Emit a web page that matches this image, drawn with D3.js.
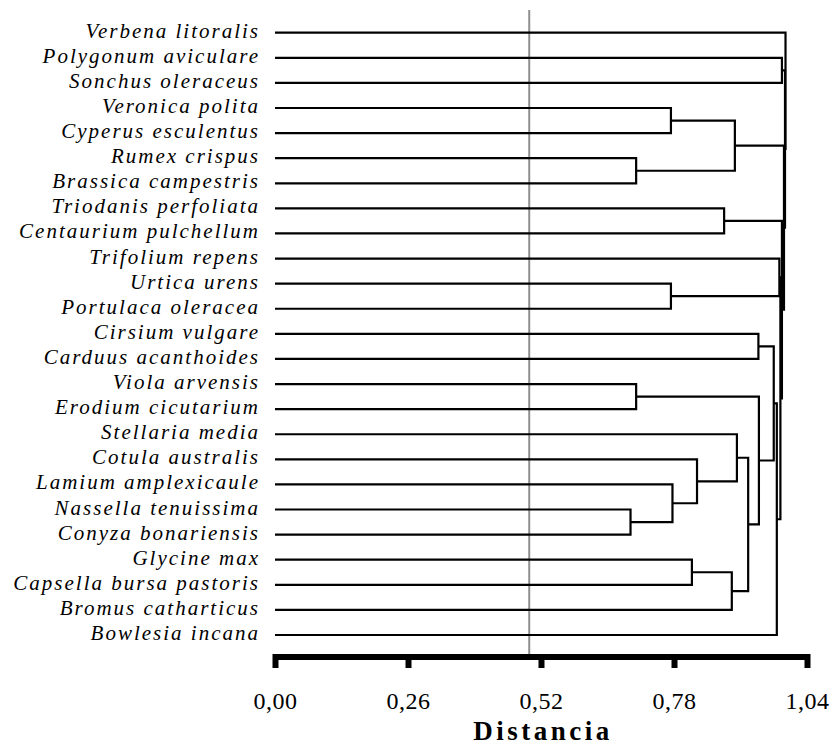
<!DOCTYPE html>
<html>
<head>
<meta charset="utf-8">
<script src="https://cdn.jsdelivr.net/npm/d3@7"></script>
<style>
  body { margin: 0; background: #ffffff; }
  .leaf { font-family: "Liberation Serif", "Times New Roman", serif; font-style: italic; font-size: 21px; letter-spacing: 2px; }
  .tick text { font-family: "Liberation Serif", "Times New Roman", serif; font-size: 24px; letter-spacing: 0.5px; }
  .xlabel { font-family: "Liberation Serif", "Times New Roman", serif; font-weight: bold; font-size: 27px; letter-spacing: 3.5px; }
</style>
</head>
<body>
<div id="chart-area"></div>
<script>
var w = 830;
var h = 746;

// leaf order top to bottom
var species = [
  "Verbena litoralis", "Polygonum aviculare", "Sonchus oleraceus", "Veronica polita",
  "Cyperus esculentus", "Rumex crispus", "Brassica campestris", "Triodanis perfoliata",
  "Centaurium pulchellum", "Trifolium repens", "Urtica urens", "Portulaca oleracea",
  "Cirsium vulgare", "Carduus acanthoides", "Viola arvensis", "Erodium cicutarium",
  "Stellaria media", "Cotula australis", "Lamium amplexicaule", "Nassella tenuissima",
  "Conyza bonariensis", "Glycine max", "Capsella bursa pastoris", "Bromus catharticus",
  "Bowlesia incana"
];

// merges: left node, right node, distance ("#k" = merge k)
var mergeLeft = [
  "Veronica polita", "Rumex crispus", "#0", "Triodanis perfoliata", "Urtica urens",
  "Trifolium repens", "Cirsium vulgare", "Viola arvensis", "Nassella tenuissima",
  "Lamium amplexicaule", "Cotula australis", "Stellaria media", "Glycine max", "#12",
  "#11", "#7", "#6", "#16", "#5", "#3", "Polygonum aviculare", "#2", "#20", "Verbena litoralis"
];
var mergeRight = [
  "Cyperus esculentus", "Brassica campestris", "#1", "Centaurium pulchellum", "Portulaca oleracea",
  "#4", "Carduus acanthoides", "Erodium cicutarium", "Conyza bonariensis",
  "#8", "#9", "#10", "Capsella bursa pastoris", "Bromus catharticus",
  "#13", "#14", "#15", "Bowlesia incana", "#17", "#18", "Sonchus oleraceus", "#19", "#21", "#22"
];
var mergeDist = [
  0.774, 0.706, 0.899, 0.878, 0.774,
  0.986, 0.945, 0.706, 0.695,
  0.777, 0.825, 0.903, 0.815, 0.893,
  0.925, 0.946, 0.975, 0.981, 0.988, 0.991, 0.991, 0.995, 0.997, 0.998
];

var tickVals = [0, 0.26, 0.52, 0.78, 1.04];
var cutDist = 0.497;

var svg = d3.select("#chart-area").append("svg")
    .attr("width", w)
    .attr("height", h);

var x = d3.scaleLinear()
    .domain([0, 1.04])
    .range([275, 807]);

var y = d3.scalePoint()
    .domain(species)
    .range([32.7, 635]);

// cut line
svg.append("line")
    .attr("x1", x(cutDist)).attr("x2", x(cutDist))
    .attr("y1", 10).attr("y2", 655)
    .attr("stroke", "#8f8f8f")
    .attr("stroke-width", 2);

// node positions
var nodes = {};
species.forEach(function(s) { nodes[s] = {y: y(s), d: 0}; });

var paths = [];
mergeDist.forEach(function(d, i) {
    var a = nodes[mergeLeft[i]];
    var b = nodes[mergeRight[i]];
    nodes["#" + i] = {y: (a.y + b.y) / 2, d: d};
    paths.push("M" + x(a.d) + "," + a.y + "H" + x(d) + "V" + b.y + "H" + x(b.d));
});

svg.append("g")
    .selectAll("path")
    .data(paths)
    .enter().append("path")
    .attr("d", function(p) { return p; })
    .attr("fill", "none")
    .attr("stroke", "#000")
    .attr("stroke-width", 2.2);

// labels
svg.append("g")
    .selectAll("text")
    .data(species)
    .enter().append("text")
    .attr("class", "leaf")
    .attr("x", 260)
    .attr("y", function(d) { return y(d) + 5; })
    .attr("text-anchor", "end")
    .text(function(d) { return d; });

// axis
var axis = svg.append("g")
    .attr("transform", "translate(0,654)")
    .call(d3.axisBottom(x)
        .tickValues(tickVals)
        .tickSize(14)
        .tickSizeOuter(0)
        .tickFormat(function(d) { return d3.format(".2f")(d).replace(".", ","); }));

axis.select(".domain")
    .attr("d", "M" + x(0) + ",3H" + x(1.04))
    .attr("stroke", "#000")
    .attr("stroke-width", 6);
axis.selectAll(".tick line")
    .attr("stroke-width", 6);
axis.selectAll(".tick text")
    .attr("y", 55)
    .attr("dy", 0)
    .attr("fill", "#000");

svg.append("text")
    .attr("class", "xlabel")
    .attr("x", x(0.52) + 2)
    .attr("y", 739.5)
    .attr("text-anchor", "middle")
    .text("Distancia");
</script>
</body>
</html>
